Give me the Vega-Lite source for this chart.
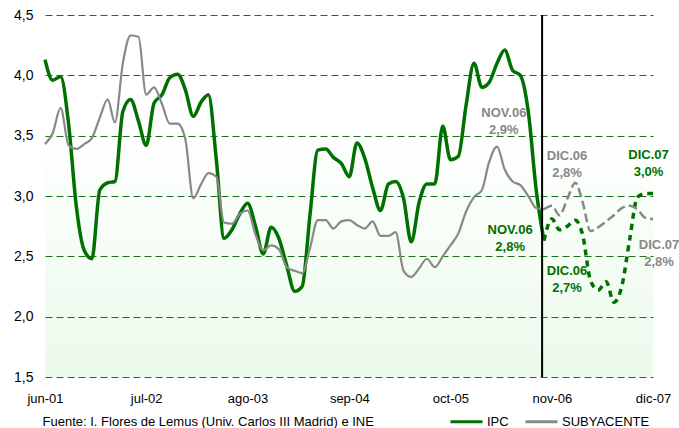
{
  "$schema": "https://vega.github.io/schema/vega-lite/v6.json",
  "width": 608,
  "height": 362,
  "autosize": "none",
  "padding": {"left": 45, "top": 15, "right": 26, "bottom": 51},
  "background": "#ffffff",
  "title": {
    "text": "Fuente: I. Flores de Lemus (Univ. Carlos III Madrid) e INE",
    "orient": "bottom",
    "anchor": "start",
    "font": "Liberation Sans",
    "fontSize": 13,
    "fontWeight": "normal",
    "color": "#000000",
    "offset": -3,
    "dy": -10,
    "dx": 29
  },
  "config": {
    "view": {
      "stroke": null,
      "fill": {
        "gradient": "linear",
        "x1": 0, "y1": 0, "x2": 0, "y2": 1,
        "stops": [
          {"offset": 0, "color": "#ffffff"},
          {"offset": 0.3, "color": "#ffffff"},
          {"offset": 1, "color": "#ebfaeb"}
        ]
      }
    },
    "font": "Liberation Sans",
    "axis": {"labelFont": "Liberation Sans", "labelColor": "#000000", "title": null, "domain": false, "ticks": false},
    "legend": {"labelFont": "Liberation Sans", "labelFontSize": 13, "labelColor": "#000000"}
  },
  "data": {
    "values": [
      {"fecha":"2001-06","serie":"IPC","valor":4.13,"tramo":"obs"},
      {"fecha":"2001-07","serie":"IPC","valor":3.96,"tramo":"obs"},
      {"fecha":"2001-08","serie":"IPC","valor":3.99,"tramo":"obs"},
      {"fecha":"2001-09","serie":"IPC","valor":3.6,"tramo":"obs"},
      {"fecha":"2001-10","serie":"IPC","valor":2.92,"tramo":"obs"},
      {"fecha":"2001-11","serie":"IPC","valor":2.55,"tramo":"obs"},
      {"fecha":"2001-12","serie":"IPC","valor":2.48,"tramo":"obs"},
      {"fecha":"2002-01","serie":"IPC","valor":3.05,"tramo":"obs"},
      {"fecha":"2002-02","serie":"IPC","valor":3.11,"tramo":"obs"},
      {"fecha":"2002-03","serie":"IPC","valor":3.12,"tramo":"obs"},
      {"fecha":"2002-04","serie":"IPC","valor":3.7,"tramo":"obs"},
      {"fecha":"2002-05","serie":"IPC","valor":3.8,"tramo":"obs"},
      {"fecha":"2002-06","serie":"IPC","valor":3.62,"tramo":"obs"},
      {"fecha":"2002-07","serie":"IPC","valor":3.42,"tramo":"obs"},
      {"fecha":"2002-08","serie":"IPC","valor":3.77,"tramo":"obs"},
      {"fecha":"2002-09","serie":"IPC","valor":3.84,"tramo":"obs"},
      {"fecha":"2002-10","serie":"IPC","valor":3.98,"tramo":"obs"},
      {"fecha":"2002-11","serie":"IPC","valor":4.01,"tramo":"obs"},
      {"fecha":"2002-12","serie":"IPC","valor":3.88,"tramo":"obs"},
      {"fecha":"2003-01","serie":"IPC","valor":3.66,"tramo":"obs"},
      {"fecha":"2003-02","serie":"IPC","valor":3.78,"tramo":"obs"},
      {"fecha":"2003-03","serie":"IPC","valor":3.84,"tramo":"obs"},
      {"fecha":"2003-04","serie":"IPC","valor":3.3,"tramo":"obs"},
      {"fecha":"2003-05","serie":"IPC","valor":2.65,"tramo":"obs"},
      {"fecha":"2003-06","serie":"IPC","valor":2.72,"tramo":"obs"},
      {"fecha":"2003-07","serie":"IPC","valor":2.85,"tramo":"obs"},
      {"fecha":"2003-08","serie":"IPC","valor":2.94,"tramo":"obs"},
      {"fecha":"2003-09","serie":"IPC","valor":2.75,"tramo":"obs"},
      {"fecha":"2003-10","serie":"IPC","valor":2.52,"tramo":"obs"},
      {"fecha":"2003-11","serie":"IPC","valor":2.74,"tramo":"obs"},
      {"fecha":"2003-12","serie":"IPC","valor":2.65,"tramo":"obs"},
      {"fecha":"2004-01","serie":"IPC","valor":2.42,"tramo":"obs"},
      {"fecha":"2004-02","serie":"IPC","valor":2.21,"tramo":"obs"},
      {"fecha":"2004-03","serie":"IPC","valor":2.25,"tramo":"obs"},
      {"fecha":"2004-04","serie":"IPC","valor":2.85,"tramo":"obs"},
      {"fecha":"2004-05","serie":"IPC","valor":3.38,"tramo":"obs"},
      {"fecha":"2004-06","serie":"IPC","valor":3.39,"tramo":"obs"},
      {"fecha":"2004-07","serie":"IPC","valor":3.32,"tramo":"obs"},
      {"fecha":"2004-08","serie":"IPC","valor":3.27,"tramo":"obs"},
      {"fecha":"2004-09","serie":"IPC","valor":3.16,"tramo":"obs"},
      {"fecha":"2004-10","serie":"IPC","valor":3.44,"tramo":"obs"},
      {"fecha":"2004-11","serie":"IPC","valor":3.31,"tramo":"obs"},
      {"fecha":"2004-12","serie":"IPC","valor":3.07,"tramo":"obs"},
      {"fecha":"2005-01","serie":"IPC","valor":2.88,"tramo":"obs"},
      {"fecha":"2005-02","serie":"IPC","valor":3.1,"tramo":"obs"},
      {"fecha":"2005-03","serie":"IPC","valor":3.12,"tramo":"obs"},
      {"fecha":"2005-04","serie":"IPC","valor":2.98,"tramo":"obs"},
      {"fecha":"2005-05","serie":"IPC","valor":2.62,"tramo":"obs"},
      {"fecha":"2005-06","serie":"IPC","valor":2.95,"tramo":"obs"},
      {"fecha":"2005-07","serie":"IPC","valor":3.1,"tramo":"obs"},
      {"fecha":"2005-08","serie":"IPC","valor":3.1,"tramo":"obs"},
      {"fecha":"2005-09","serie":"IPC","valor":3.58,"tramo":"obs"},
      {"fecha":"2005-10","serie":"IPC","valor":3.3,"tramo":"obs"},
      {"fecha":"2005-11","serie":"IPC","valor":3.33,"tramo":"obs"},
      {"fecha":"2005-12","serie":"IPC","valor":3.75,"tramo":"obs"},
      {"fecha":"2006-01","serie":"IPC","valor":4.1,"tramo":"obs"},
      {"fecha":"2006-02","serie":"IPC","valor":3.9,"tramo":"obs"},
      {"fecha":"2006-03","serie":"IPC","valor":3.94,"tramo":"obs"},
      {"fecha":"2006-04","serie":"IPC","valor":4.1,"tramo":"obs"},
      {"fecha":"2006-05","serie":"IPC","valor":4.21,"tramo":"obs"},
      {"fecha":"2006-06","serie":"IPC","valor":4.04,"tramo":"obs"},
      {"fecha":"2006-07","serie":"IPC","valor":4.0,"tramo":"obs"},
      {"fecha":"2006-08","serie":"IPC","valor":3.7,"tramo":"obs"},
      {"fecha":"2006-09","serie":"IPC","valor":3.05,"tramo":"obs"},
      {"fecha":"2006-10","serie":"IPC","valor":2.63,"tramo":"obs"},
      {"fecha":"2006-10","serie":"IPC","valor":2.63,"tramo":"proj"},
      {"fecha":"2006-11","serie":"IPC","valor":2.81,"tramo":"proj"},
      {"fecha":"2006-12","serie":"IPC","valor":2.72,"tramo":"proj"},
      {"fecha":"2007-01","serie":"IPC","valor":2.75,"tramo":"proj"},
      {"fecha":"2007-02","serie":"IPC","valor":2.8,"tramo":"proj"},
      {"fecha":"2007-03","serie":"IPC","valor":2.68,"tramo":"proj"},
      {"fecha":"2007-04","serie":"IPC","valor":2.3,"tramo":"proj"},
      {"fecha":"2007-05","serie":"IPC","valor":2.22,"tramo":"proj"},
      {"fecha":"2007-06","serie":"IPC","valor":2.29,"tramo":"proj"},
      {"fecha":"2007-07","serie":"IPC","valor":2.12,"tramo":"proj"},
      {"fecha":"2007-08","serie":"IPC","valor":2.25,"tramo":"proj"},
      {"fecha":"2007-09","serie":"IPC","valor":2.64,"tramo":"proj"},
      {"fecha":"2007-10","serie":"IPC","valor":2.99,"tramo":"proj"},
      {"fecha":"2007-11","serie":"IPC","valor":3.02,"tramo":"proj"},
      {"fecha":"2007-12","serie":"IPC","valor":3.02,"tramo":"proj"},
      {"fecha":"2001-06","serie":"SUBYACENTE","valor":3.43,"tramo":"obs"},
      {"fecha":"2001-07","serie":"SUBYACENTE","valor":3.52,"tramo":"obs"},
      {"fecha":"2001-08","serie":"SUBYACENTE","valor":3.73,"tramo":"obs"},
      {"fecha":"2001-09","serie":"SUBYACENTE","valor":3.42,"tramo":"obs"},
      {"fecha":"2001-10","serie":"SUBYACENTE","valor":3.39,"tramo":"obs"},
      {"fecha":"2001-11","serie":"SUBYACENTE","valor":3.43,"tramo":"obs"},
      {"fecha":"2001-12","serie":"SUBYACENTE","valor":3.48,"tramo":"obs"},
      {"fecha":"2002-01","serie":"SUBYACENTE","valor":3.65,"tramo":"obs"},
      {"fecha":"2002-02","serie":"SUBYACENTE","valor":3.8,"tramo":"obs"},
      {"fecha":"2002-03","serie":"SUBYACENTE","valor":3.61,"tramo":"obs"},
      {"fecha":"2002-04","serie":"SUBYACENTE","valor":4.1,"tramo":"obs"},
      {"fecha":"2002-05","serie":"SUBYACENTE","valor":4.33,"tramo":"obs"},
      {"fecha":"2002-06","serie":"SUBYACENTE","valor":4.32,"tramo":"obs"},
      {"fecha":"2002-07","serie":"SUBYACENTE","valor":3.84,"tramo":"obs"},
      {"fecha":"2002-08","serie":"SUBYACENTE","valor":3.9,"tramo":"obs"},
      {"fecha":"2002-09","serie":"SUBYACENTE","valor":3.76,"tramo":"obs"},
      {"fecha":"2002-10","serie":"SUBYACENTE","valor":3.6,"tramo":"obs"},
      {"fecha":"2002-11","serie":"SUBYACENTE","valor":3.6,"tramo":"obs"},
      {"fecha":"2002-12","serie":"SUBYACENTE","valor":3.47,"tramo":"obs"},
      {"fecha":"2003-01","serie":"SUBYACENTE","valor":2.98,"tramo":"obs"},
      {"fecha":"2003-02","serie":"SUBYACENTE","valor":3.1,"tramo":"obs"},
      {"fecha":"2003-03","serie":"SUBYACENTE","valor":3.19,"tramo":"obs"},
      {"fecha":"2003-04","serie":"SUBYACENTE","valor":3.16,"tramo":"obs"},
      {"fecha":"2003-05","serie":"SUBYACENTE","valor":2.78,"tramo":"obs"},
      {"fecha":"2003-06","serie":"SUBYACENTE","valor":2.77,"tramo":"obs"},
      {"fecha":"2003-07","serie":"SUBYACENTE","valor":2.85,"tramo":"obs"},
      {"fecha":"2003-08","serie":"SUBYACENTE","valor":2.88,"tramo":"obs"},
      {"fecha":"2003-09","serie":"SUBYACENTE","valor":2.68,"tramo":"obs"},
      {"fecha":"2003-10","serie":"SUBYACENTE","valor":2.55,"tramo":"obs"},
      {"fecha":"2003-11","serie":"SUBYACENTE","valor":2.59,"tramo":"obs"},
      {"fecha":"2003-12","serie":"SUBYACENTE","valor":2.56,"tramo":"obs"},
      {"fecha":"2004-01","serie":"SUBYACENTE","valor":2.41,"tramo":"obs"},
      {"fecha":"2004-02","serie":"SUBYACENTE","valor":2.38,"tramo":"obs"},
      {"fecha":"2004-03","serie":"SUBYACENTE","valor":2.36,"tramo":"obs"},
      {"fecha":"2004-04","serie":"SUBYACENTE","valor":2.57,"tramo":"obs"},
      {"fecha":"2004-05","serie":"SUBYACENTE","valor":2.8,"tramo":"obs"},
      {"fecha":"2004-06","serie":"SUBYACENTE","valor":2.8,"tramo":"obs"},
      {"fecha":"2004-07","serie":"SUBYACENTE","valor":2.73,"tramo":"obs"},
      {"fecha":"2004-08","serie":"SUBYACENTE","valor":2.79,"tramo":"obs"},
      {"fecha":"2004-09","serie":"SUBYACENTE","valor":2.8,"tramo":"obs"},
      {"fecha":"2004-10","serie":"SUBYACENTE","valor":2.76,"tramo":"obs"},
      {"fecha":"2004-11","serie":"SUBYACENTE","valor":2.73,"tramo":"obs"},
      {"fecha":"2004-12","serie":"SUBYACENTE","valor":2.79,"tramo":"obs"},
      {"fecha":"2005-01","serie":"SUBYACENTE","valor":2.67,"tramo":"obs"},
      {"fecha":"2005-02","serie":"SUBYACENTE","valor":2.67,"tramo":"obs"},
      {"fecha":"2005-03","serie":"SUBYACENTE","valor":2.7,"tramo":"obs"},
      {"fecha":"2005-04","serie":"SUBYACENTE","valor":2.38,"tramo":"obs"},
      {"fecha":"2005-05","serie":"SUBYACENTE","valor":2.33,"tramo":"obs"},
      {"fecha":"2005-06","serie":"SUBYACENTE","valor":2.4,"tramo":"obs"},
      {"fecha":"2005-07","serie":"SUBYACENTE","valor":2.48,"tramo":"obs"},
      {"fecha":"2005-08","serie":"SUBYACENTE","valor":2.41,"tramo":"obs"},
      {"fecha":"2005-09","serie":"SUBYACENTE","valor":2.5,"tramo":"obs"},
      {"fecha":"2005-10","serie":"SUBYACENTE","valor":2.59,"tramo":"obs"},
      {"fecha":"2005-11","serie":"SUBYACENTE","valor":2.69,"tramo":"obs"},
      {"fecha":"2005-12","serie":"SUBYACENTE","valor":2.87,"tramo":"obs"},
      {"fecha":"2006-01","serie":"SUBYACENTE","valor":2.99,"tramo":"obs"},
      {"fecha":"2006-02","serie":"SUBYACENTE","valor":3.05,"tramo":"obs"},
      {"fecha":"2006-03","serie":"SUBYACENTE","valor":3.28,"tramo":"obs"},
      {"fecha":"2006-04","serie":"SUBYACENTE","valor":3.41,"tramo":"obs"},
      {"fecha":"2006-05","serie":"SUBYACENTE","valor":3.22,"tramo":"obs"},
      {"fecha":"2006-06","serie":"SUBYACENTE","valor":3.12,"tramo":"obs"},
      {"fecha":"2006-07","serie":"SUBYACENTE","valor":3.09,"tramo":"obs"},
      {"fecha":"2006-08","serie":"SUBYACENTE","valor":3.0,"tramo":"obs"},
      {"fecha":"2006-09","serie":"SUBYACENTE","valor":2.9,"tramo":"obs"},
      {"fecha":"2006-10","serie":"SUBYACENTE","valor":2.89,"tramo":"obs"},
      {"fecha":"2006-10","serie":"SUBYACENTE","valor":2.89,"tramo":"proj"},
      {"fecha":"2006-11","serie":"SUBYACENTE","valor":2.92,"tramo":"proj"},
      {"fecha":"2006-12","serie":"SUBYACENTE","valor":2.84,"tramo":"proj"},
      {"fecha":"2007-01","serie":"SUBYACENTE","valor":2.98,"tramo":"proj"},
      {"fecha":"2007-02","serie":"SUBYACENTE","valor":3.11,"tramo":"proj"},
      {"fecha":"2007-03","serie":"SUBYACENTE","valor":2.95,"tramo":"proj"},
      {"fecha":"2007-04","serie":"SUBYACENTE","valor":2.71,"tramo":"proj"},
      {"fecha":"2007-05","serie":"SUBYACENTE","valor":2.74,"tramo":"proj"},
      {"fecha":"2007-06","serie":"SUBYACENTE","valor":2.79,"tramo":"proj"},
      {"fecha":"2007-07","serie":"SUBYACENTE","valor":2.84,"tramo":"proj"},
      {"fecha":"2007-08","serie":"SUBYACENTE","valor":2.9,"tramo":"proj"},
      {"fecha":"2007-09","serie":"SUBYACENTE","valor":2.92,"tramo":"proj"},
      {"fecha":"2007-10","serie":"SUBYACENTE","valor":2.89,"tramo":"proj"},
      {"fecha":"2007-11","serie":"SUBYACENTE","valor":2.82,"tramo":"proj"},
      {"fecha":"2007-12","serie":"SUBYACENTE","valor":2.81,"tramo":"proj"}
    ],
    "format": {"parse": {"fecha": "date:'%Y-%m'"}}
  },
  "encoding": {
    "x": {
      "field": "fecha",
      "type": "temporal",
      "scale": {"domain": [{"year": 2001, "month": 6, "date": 1}, {"year": 2007, "month": 12, "date": 1}]},
      "axis": {
        "values": [
          {"year": 2001, "month": 6, "date": 1},
          {"year": 2002, "month": 7, "date": 1},
          {"year": 2003, "month": 8, "date": 1},
          {"year": 2004, "month": 9, "date": 1},
          {"year": 2005, "month": 10, "date": 1},
          {"year": 2006, "month": 11, "date": 1},
          {"year": 2007, "month": 12, "date": 1}
        ],
        "labelExpr": "['ene','feb','mar','abr','may','jun','jul','ago','sep','oct','nov','dic'][month(datum.value)] + '-' + timeFormat(datum.value, '%y')",
        "grid": false,
        "labelFontSize": 13,
        "labelPadding": 15,
        "labelFlush": false,
        "labelOverlap": false
      }
    },
    "y": {
      "field": "valor",
      "type": "quantitative",
      "scale": {"domain": [1.5, 4.5], "nice": false, "zero": false},
      "axis": {
        "values": [1.5, 2.0, 2.5, 3.0, 3.5, 4.0, 4.5],
        "labelExpr": "replace(format(datum.value, '.1f'), '.', ',')",
        "labelFontSize": 14,
        "labelPadding": 12,
        "grid": true,
        "gridColor": "#1f6f1f",
        "gridDash": [7, 4],
        "gridWidth": 1,
        "gridOpacity": 1
      }
    },
    "color": {
      "field": "serie",
      "type": "nominal",
      "scale": {"domain": ["IPC", "SUBYACENTE"], "range": ["#007000", "#888888"]},
      "legend": {
        "title": null,
        "orient": "none",
        "legendX": 404,
        "legendY": 389,
        "direction": "horizontal",
        "symbolType": "stroke",
        "symbolSize": 1024,
        "symbolStrokeWidth": 3,
        "labelOffset": 3,
        "columnPadding": 10
      }
    }
  },
  "layer": [
    {
      "transform": [{"filter": "datum.serie === 'IPC' && datum.tramo === 'obs'"}],
      "mark": {"type": "line", "interpolate": "monotone", "strokeWidth": 3.5}
    },
    {
      "transform": [{"filter": "datum.serie === 'IPC' && datum.tramo === 'proj'"}],
      "mark": {"type": "line", "interpolate": "monotone", "strokeWidth": 3.5, "strokeDash": [6, 5]}
    },
    {
      "transform": [{"filter": "datum.serie === 'SUBYACENTE' && datum.tramo === 'obs'"}],
      "mark": {"type": "line", "interpolate": "monotone", "strokeWidth": 2.2}
    },
    {
      "transform": [{"filter": "datum.serie === 'SUBYACENTE' && datum.tramo === 'proj'"}],
      "mark": {"type": "line", "interpolate": "monotone", "strokeWidth": 2.5, "strokeDash": [9, 4]}
    },
    {
      "data": {"values": [{"fecha": "2006-09-24"}], "format": {"parse": {"fecha": "date:'%Y-%m-%d'"}}},
      "mark": {"type": "rule", "color": "#000000", "strokeWidth": 2},
      "encoding": {"x": {"field": "fecha", "type": "temporal"}, "y": null, "color": null}
    },
    {
      "transform": [{"filter": "datum.serie === 'SUBYACENTE' && datum.tramo === 'proj' && year(datum.fecha) === 2006 && month(datum.fecha) === 10"}],
      "mark": {"type": "text", "text": ["NOV.06", "2,9%"], "fontWeight": "bold", "fontSize": 13, "lineHeight": 17, "baseline": "middle", "align": "center", "dx": -48, "dy": -92.6, "color": "#888888"},
      "encoding": {"color": null}
    },
    {
      "transform": [{"filter": "datum.serie === 'SUBYACENTE' && datum.tramo === 'proj' && year(datum.fecha) === 2006 && month(datum.fecha) === 11"}],
      "mark": {"type": "text", "text": ["DIC.06", "2,8%"], "fontWeight": "bold", "fontSize": 13, "lineHeight": 17, "baseline": "middle", "align": "center", "dx": 7.5, "dy": -59.2, "color": "#888888"},
      "encoding": {"color": null}
    },
    {
      "transform": [{"filter": "datum.serie === 'SUBYACENTE' && datum.tramo === 'proj' && year(datum.fecha) === 2007 && month(datum.fecha) === 11"}],
      "mark": {"type": "text", "text": ["DIC.07", "2,8%"], "fontWeight": "bold", "fontSize": 13, "lineHeight": 17, "baseline": "middle", "align": "center", "dx": 6, "dy": 26.5, "color": "#888888"},
      "encoding": {"color": null}
    },
    {
      "transform": [{"filter": "datum.serie === 'IPC' && datum.tramo === 'proj' && year(datum.fecha) === 2006 && month(datum.fecha) === 10"}],
      "mark": {"type": "text", "text": ["NOV.06", "2,8%"], "fontWeight": "bold", "fontSize": 13, "lineHeight": 17, "baseline": "middle", "align": "center", "dx": -41.7, "dy": 11.2, "color": "#007000"},
      "encoding": {"color": null}
    },
    {
      "transform": [{"filter": "datum.serie === 'IPC' && datum.tramo === 'proj' && year(datum.fecha) === 2006 && month(datum.fecha) === 11"}],
      "mark": {"type": "text", "text": ["DIC.06", "2,7%"], "fontWeight": "bold", "fontSize": 13, "lineHeight": 17, "baseline": "middle", "align": "center", "dx": 7.5, "dy": 41.4, "color": "#007000"},
      "encoding": {"color": null}
    },
    {
      "transform": [{"filter": "datum.serie === 'IPC' && datum.tramo === 'proj' && year(datum.fecha) === 2007 && month(datum.fecha) === 11"}],
      "mark": {"type": "text", "text": ["DIC.07", "3,0%"], "fontWeight": "bold", "fontSize": 13, "lineHeight": 17, "baseline": "middle", "align": "center", "dx": -4.5, "dy": -38.6, "color": "#007000"},
      "encoding": {"color": null}
    }
  ]
}
